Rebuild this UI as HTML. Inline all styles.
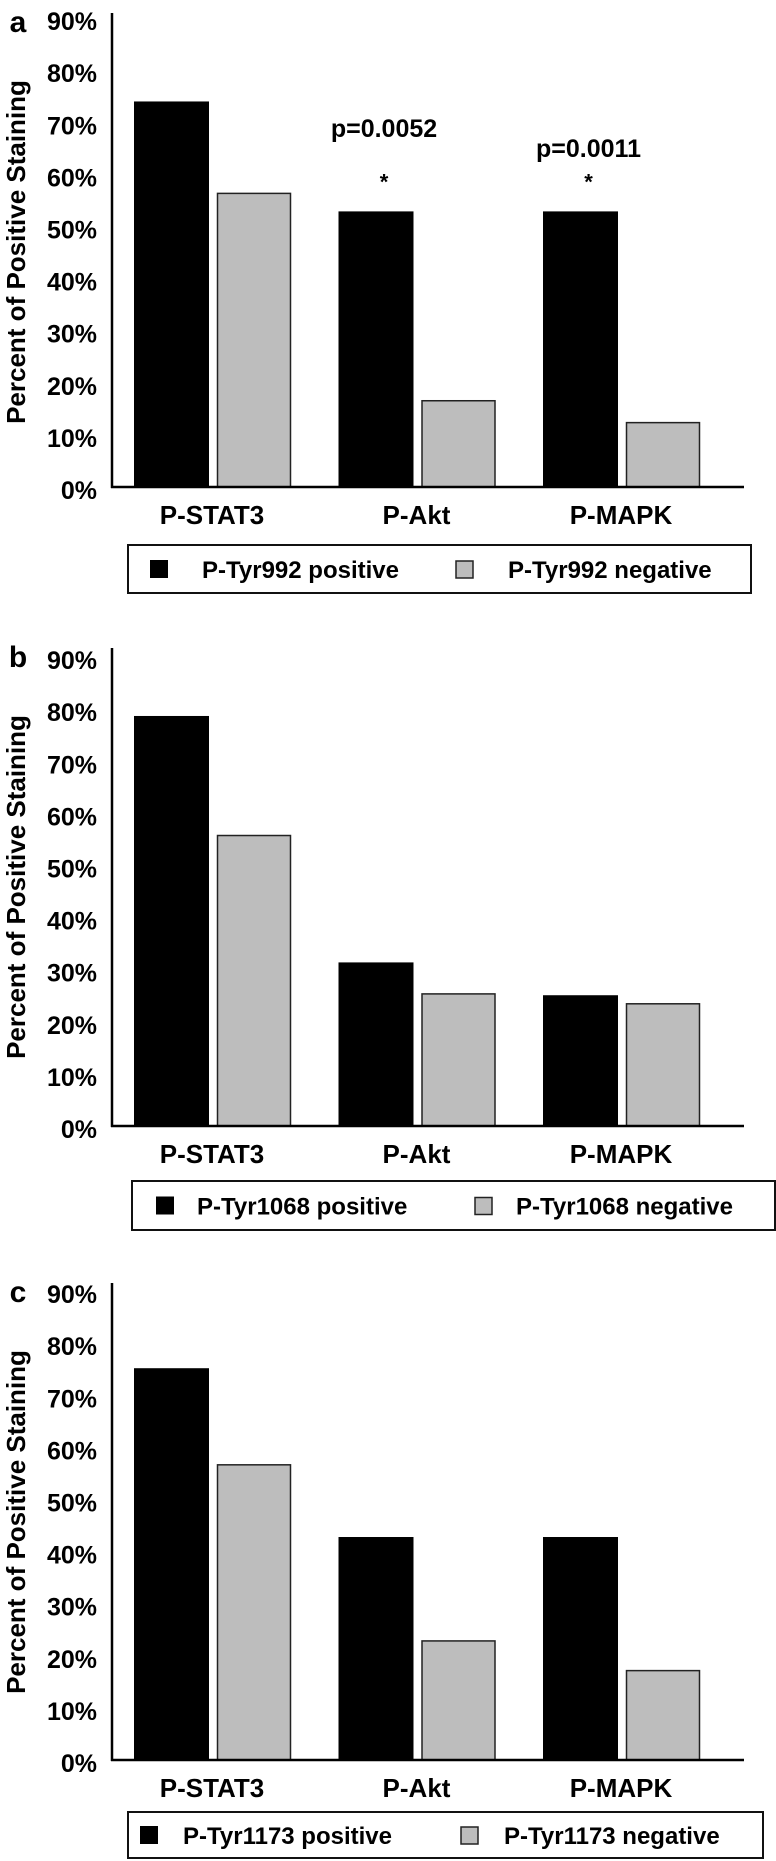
<!DOCTYPE html>
<html><head><meta charset="utf-8">
<style>
html,body{margin:0;padding:0;background:#fff;}
svg{display:block;font-family:"Liberation Sans",Arial,sans-serif;font-weight:bold;}
</style></head>
<body>
<svg id="fig" width="776" height="1861" viewBox="0 0 776 1861" xmlns="http://www.w3.org/2000/svg"></svg>
<script>
const categories = ["P-STAT3", "P-Akt", "P-MAPK"];
const ticks = [0, 10, 20, 30, 40, 50, 60, 70, 80, 90];
const tickLabels = ["0%", "10%", "20%", "30%", "40%", "50%", "60%", "70%", "80%", "90%"];
const panelLetters = ["a", "b", "c"];
const positiveA = [74.0, 52.9, 52.9];
const negativeA = [56.5, 16.7, 12.5];
const positiveB = [78.7, 31.4, 25.1];
const negativeB = [55.9, 25.5, 23.6];
const positiveC = [75.2, 42.8, 42.8];
const negativeC = [56.8, 23.0, 17.3];
const legendPos = ["P-Tyr992 positive", "P-Tyr1068 positive", "P-Tyr1173 positive"];
const legendNeg = ["P-Tyr992 negative", "P-Tyr1068 negative", "P-Tyr1173 negative"];
const pValues = [null, "p=0.0052", "p=0.0011"];

const NS = "http://www.w3.org/2000/svg";
const svg = document.getElementById("fig");
function mk(tag, attrs, parent, text) {
  const e = document.createElementNS(NS, tag);
  for (const k in attrs) e.setAttribute(k, attrs[k]);
  if (text !== undefined) e.textContent = text;
  (parent || svg).appendChild(e);
  return e;
}

const layout = [
  {base: 487, top: 13, legend: [128, 545, 751, 593], sqPos: 150, txPos: 202, sqNeg: 456, txNeg: 508, pos: positiveA, neg: negativeA},
  {base: 1126, top: 648, legend: [132, 1181, 775, 1230], sqPos: 156, txPos: 197, sqNeg: 475, txNeg: 516, pos: positiveB, neg: negativeB},
  {base: 1760, top: 1283, legend: [128, 1812, 763, 1858], sqPos: 140, txPos: 183, sqNeg: 461, txNeg: 504, pos: positiveC, neg: negativeC}
];
const pxPer = 5.21;
const axisX = 112, axisEnd = 744;
function xGroup(i) { return 134 + i * 204.5; }

layout.forEach((L, p) => {
  const g = mk("g", {});
  
  
  const y = v => L.base - v * pxPer;

  // y title
  const cy = L.top + 239;
  const t = mk("text", {x: 16, y: cy, "font-size": 26, "text-anchor": "middle", "dominant-baseline": "central", transform: `rotate(-90 16 ${cy})`}, g, "Percent of Positive Staining");
  
  

  // panel letter
  const pl = mk("text", {x: 18, y: L.top + 19, "font-size": 30, "text-anchor": "middle"}, g, panelLetters[p]);
  
  

  // ticks
  ticks.forEach((v, i) => {
    const tl = mk("text", {x: 97, y: y(v) + 12, "font-size": 25, "text-anchor": "end"}, g, tickLabels[i]);
    
    
  });

  // bars
  categories.forEach((c, i) => {
    const x0 = xGroup(i);
    const b1 = mk("rect", {x: x0, y: y(L.pos[i]), width: 75, height: L.pos[i] * pxPer, fill: "#000"}, g);
    
    
    const b2 = mk("rect", {x: x0 + 83.5, y: y(L.neg[i]) + 0.75, width: 73, height: L.neg[i] * pxPer - 0.75, fill: "#bdbdbd", stroke: "#222", "stroke-width": 1.5}, g);
    
    
    const cl = mk("text", {x: x0 + 78, y: L.base + 37, "font-size": 26, "text-anchor": "middle"}, g, c);
    
    
    if (p === 0 && pValues[i]) {
      const cx = x0 + 37.5;
      const yt = y(L.pos[i]);
      const pv = mk("text", {x: cx + 8, y: i === 1 ? 137 : 157, "font-size": 25, "text-anchor": "middle"}, g, pValues[i]);
      
      
      const st = mk("text", {x: cx + 8, y: yt - 22, "font-size": 22, "text-anchor": "middle"}, g, "*");
      
      
    }
  });

  // axes
  const ya = mk("line", {x1: axisX, y1: L.top, x2: axisX, y2: L.base + 1, stroke: "#000", "stroke-width": 2.5}, g);
  
  
  const xa = mk("line", {x1: axisX - 1, y1: L.base, x2: axisEnd, y2: L.base, stroke: "#000", "stroke-width": 2.5}, g);
  
  

  // legend
  const [lx1, ly1, lx2, ly2] = L.legend;
  const lg = mk("g", {}, g);
  
  
  mk("rect", {x: lx1, y: ly1, width: lx2 - lx1, height: ly2 - ly1, fill: "#fff", stroke: "#111", "stroke-width": 2}, lg);
  const my = (ly1 + ly2) / 2;
  const s1 = mk("rect", {x: L.sqPos, y: my - 9, width: 18, height: 18, fill: "#000"}, lg);
  
  
  const t1 = mk("text", {x: L.txPos, y: my + 9, "font-size": 24}, lg, legendPos[p]);
  
  
  const s2 = mk("rect", {x: L.sqNeg, y: my - 8, width: 17, height: 17, fill: "#bdbdbd", stroke: "#222", "stroke-width": 1.5}, lg);
  
  
  const t2 = mk("text", {x: L.txNeg, y: my + 9, "font-size": 24}, lg, legendNeg[p]);
  
  
});
</script>
</body></html>
